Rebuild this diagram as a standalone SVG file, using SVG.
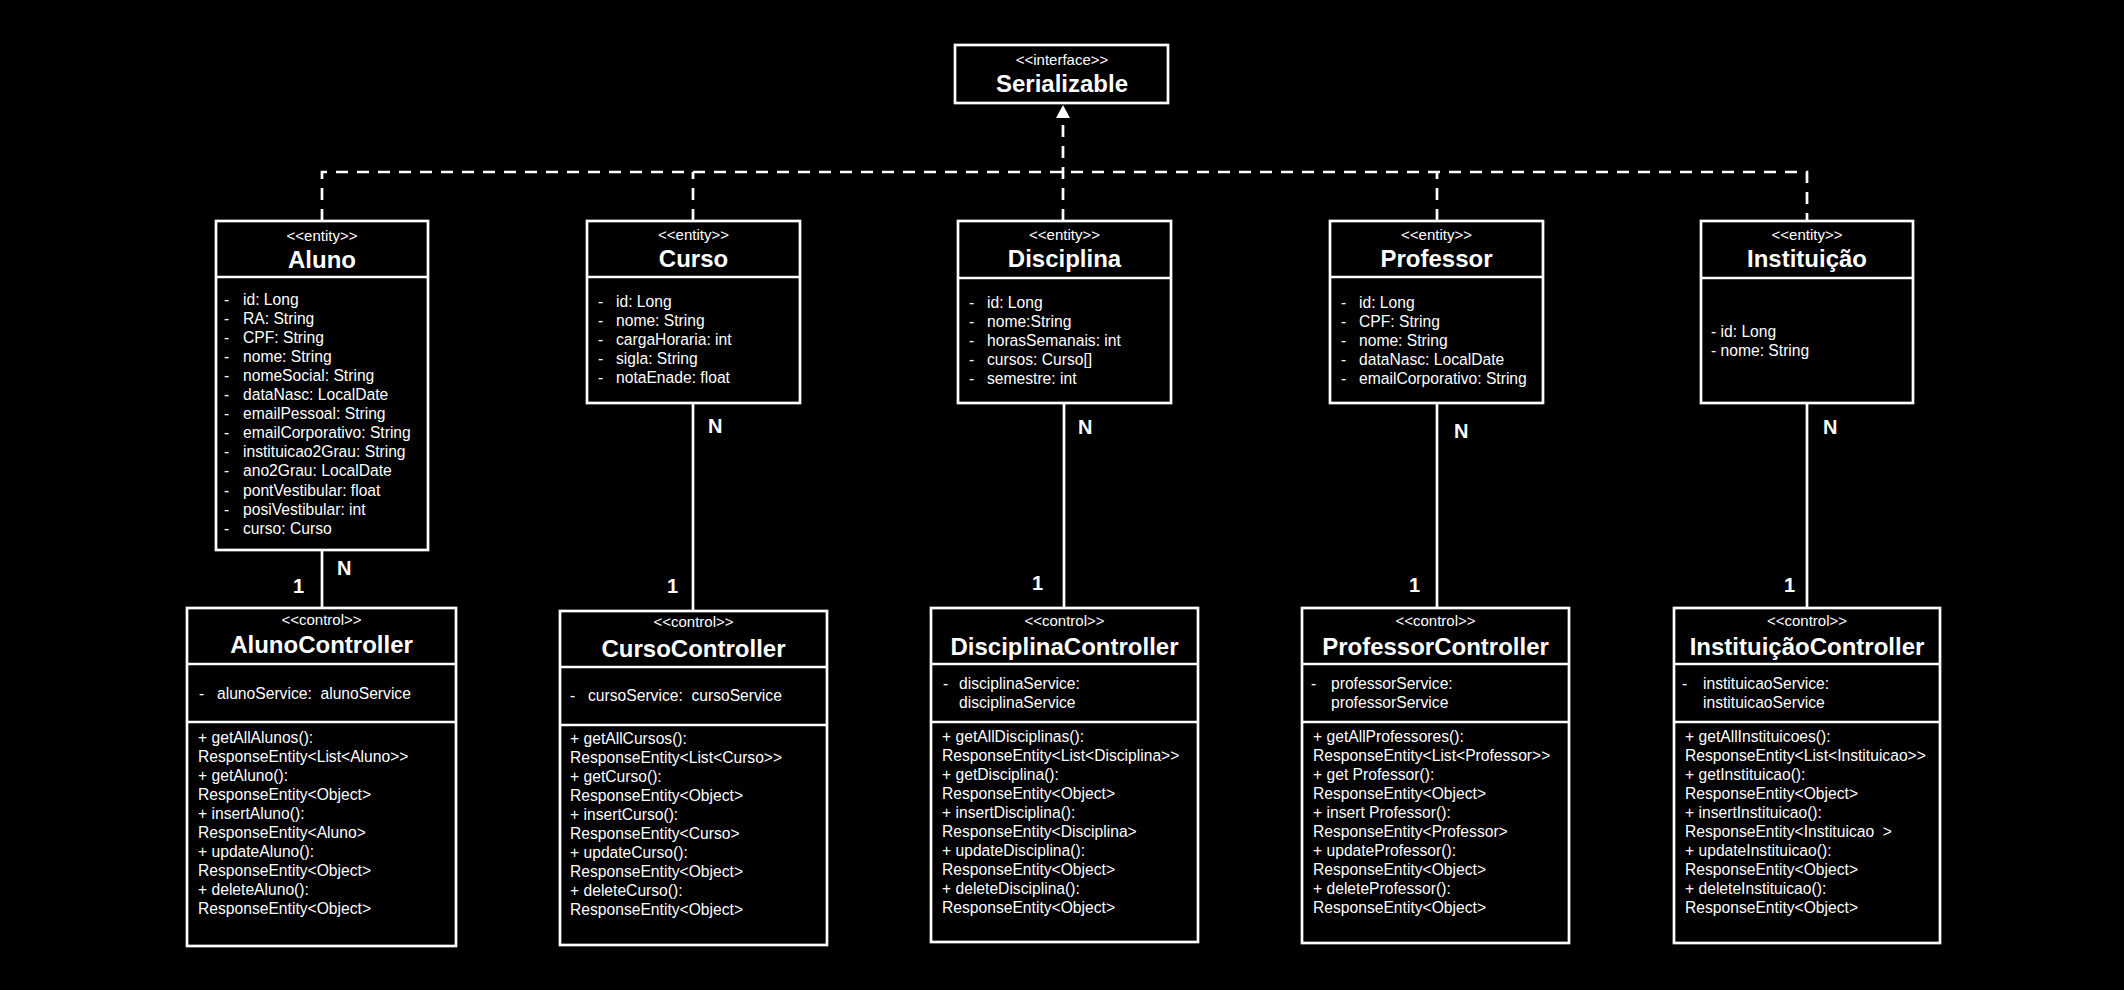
<svg xmlns="http://www.w3.org/2000/svg" width="2124" height="990" viewBox="0 0 2124 990">
<style>
.bg{fill:#000}
.box{fill:#000;stroke:#fff;stroke-width:2.7}
.sep{stroke:#fff;stroke-width:2.7}
.st{font-family:"Liberation Sans",Arial,sans-serif;font-size:15px;fill:#fff;text-anchor:middle}
.ti{font-family:"Liberation Sans",Arial,sans-serif;font-size:24px;font-weight:bold;fill:#fff;text-anchor:middle}
.tx{font-family:"Liberation Sans",Arial,sans-serif;font-size:15.65px;fill:#fff}
.card{font-family:"Liberation Sans",Arial,sans-serif;font-size:20px;font-weight:bold;fill:#fff}
.dash{fill:none;stroke:#fff;stroke-width:2.7;stroke-dasharray:12 9}
.line{fill:none;stroke:#fff;stroke-width:2.7}
</style>
<rect class="bg" x="0" y="0" width="2124" height="990"/>

<g id="connectors">
  <path class="dash" d="M322,221 V172 H1807 V221"/>
  <path class="dash" d="M693,221 V172"/>
  <path class="dash" d="M1437,221 V172"/>
  <path class="dash" d="M1063,221 V118"/>
  <polygon points="1063,105 1056,118 1070,118" fill="#fff"/>
  <path class="line" d="M322,550 V608"/>
  <path class="line" d="M693,403 V611"/>
  <path class="line" d="M1064,403 V608"/>
  <path class="line" d="M1437,403 V608"/>
  <path class="line" d="M1807,403 V608"/>
  <text class="card" x="337" y="575">N</text>
  <text class="card" x="293" y="593">1</text>
  <text class="card" x="708" y="433">N</text>
  <text class="card" x="667" y="593">1</text>
  <text class="card" x="1078" y="434">N</text>
  <text class="card" x="1032" y="590">1</text>
  <text class="card" x="1454" y="438">N</text>
  <text class="card" x="1409" y="592">1</text>
  <text class="card" x="1823" y="434">N</text>
  <text class="card" x="1784" y="592">1</text>
</g>

<g id="serializable">
  <rect class="box" x="955" y="45" width="213" height="58"/>
  <text class="st" x="1062" y="65">&lt;&lt;interface&gt;&gt;</text>
  <text class="ti" x="1062" y="92">Serializable</text>
</g>

<g id="aluno">
  <rect class="box" x="216" y="221" width="212" height="329"/>
  <line class="sep" x1="216" y1="277" x2="428" y2="277"/>
  <text class="st" x="322" y="241">&lt;&lt;entity&gt;&gt;</text>
  <text class="ti" x="322" y="268">Aluno</text>
  <g class="tx">
    <text y="305"><tspan x="224">-</tspan><tspan x="243">id: Long</tspan></text>
    <text y="324"><tspan x="224">-</tspan><tspan x="243">RA: String</tspan></text>
    <text y="343"><tspan x="224">-</tspan><tspan x="243">CPF: String</tspan></text>
    <text y="362"><tspan x="224">-</tspan><tspan x="243">nome: String</tspan></text>
    <text y="381"><tspan x="224">-</tspan><tspan x="243">nomeSocial: String</tspan></text>
    <text y="400"><tspan x="224">-</tspan><tspan x="243">dataNasc: LocalDate</tspan></text>
    <text y="419"><tspan x="224">-</tspan><tspan x="243">emailPessoal: String</tspan></text>
    <text y="438"><tspan x="224">-</tspan><tspan x="243">emailCorporativo: String</tspan></text>
    <text y="457"><tspan x="224">-</tspan><tspan x="243">instituicao2Grau: String</tspan></text>
    <text y="476"><tspan x="224">-</tspan><tspan x="243">ano2Grau: LocalDate</tspan></text>
    <text y="496"><tspan x="224">-</tspan><tspan x="243">pontVestibular: float</tspan></text>
    <text y="515"><tspan x="224">-</tspan><tspan x="243">posiVestibular: int</tspan></text>
    <text y="534"><tspan x="224">-</tspan><tspan x="243">curso: Curso</tspan></text>
  </g>
</g>

<g id="curso">
  <rect class="box" x="587" y="221" width="213" height="182"/>
  <line class="sep" x1="587" y1="277" x2="800" y2="277"/>
  <text class="st" x="693.5" y="240">&lt;&lt;entity&gt;&gt;</text>
  <text class="ti" x="693.5" y="267">Curso</text>
  <g class="tx">
    <text y="307"><tspan x="598">-</tspan><tspan x="616">id: Long</tspan></text>
    <text y="326"><tspan x="598">-</tspan><tspan x="616">nome: String</tspan></text>
    <text y="345"><tspan x="598">-</tspan><tspan x="616">cargaHoraria: int</tspan></text>
    <text y="364"><tspan x="598">-</tspan><tspan x="616">sigla: String</tspan></text>
    <text y="383"><tspan x="598">-</tspan><tspan x="616">notaEnade: float</tspan></text>
  </g>
</g>

<g id="disciplina">
  <rect class="box" x="958" y="221" width="213" height="182"/>
  <line class="sep" x1="958" y1="278" x2="1171" y2="278"/>
  <text class="st" x="1064.5" y="240">&lt;&lt;entity&gt;&gt;</text>
  <text class="ti" x="1064.5" y="267">Disciplina</text>
  <g class="tx">
    <text y="308"><tspan x="969">-</tspan><tspan x="987">id: Long</tspan></text>
    <text y="327"><tspan x="969">-</tspan><tspan x="987">nome:String</tspan></text>
    <text y="346"><tspan x="969">-</tspan><tspan x="987">horasSemanais: int</tspan></text>
    <text y="365"><tspan x="969">-</tspan><tspan x="987">cursos: Curso[]</tspan></text>
    <text y="384"><tspan x="969">-</tspan><tspan x="987">semestre: int</tspan></text>
  </g>
</g>

<g id="professor">
  <rect class="box" x="1330" y="221" width="213" height="182"/>
  <line class="sep" x1="1330" y1="277" x2="1543" y2="277"/>
  <text class="st" x="1436.5" y="240">&lt;&lt;entity&gt;&gt;</text>
  <text class="ti" x="1436.5" y="267">Professor</text>
  <g class="tx">
    <text y="308"><tspan x="1341">-</tspan><tspan x="1359">id: Long</tspan></text>
    <text y="327"><tspan x="1341">-</tspan><tspan x="1359">CPF: String</tspan></text>
    <text y="346"><tspan x="1341">-</tspan><tspan x="1359">nome: String</tspan></text>
    <text y="365"><tspan x="1341">-</tspan><tspan x="1359">dataNasc: LocalDate</tspan></text>
    <text y="384"><tspan x="1341">-</tspan><tspan x="1359">emailCorporativo: String</tspan></text>
  </g>
</g>

<g id="instituicao">
  <rect class="box" x="1701" y="221" width="212" height="182"/>
  <line class="sep" x1="1701" y1="278" x2="1913" y2="278"/>
  <text class="st" x="1807" y="240">&lt;&lt;entity&gt;&gt;</text>
  <text class="ti" x="1807" y="267">Instituição</text>
  <g class="tx">
    <text x="1711" y="337">- id: Long</text>
    <text x="1711" y="356">- nome: String</text>
  </g>
</g>

<g id="alunoController">
  <rect class="box" x="187" y="608" width="269" height="338"/>
  <line class="sep" x1="187" y1="664" x2="456" y2="664"/>
  <line class="sep" x1="187" y1="722" x2="456" y2="722"/>
  <text class="st" x="321.5" y="625">&lt;&lt;control&gt;&gt;</text>
  <text class="ti" x="321.5" y="653">AlunoController</text>
  <g class="tx">
    <text y="699" xml:space="preserve"><tspan x="199">-</tspan><tspan x="217">alunoService:  alunoService</tspan></text>
    <text x="198" y="743">+ getAllAlunos():</text>
    <text x="198" y="762">ResponseEntity&lt;List&lt;Aluno&gt;&gt;</text>
    <text x="198" y="781">+ getAluno():</text>
    <text x="198" y="800">ResponseEntity&lt;Object&gt;</text>
    <text x="198" y="819">+ insertAluno():</text>
    <text x="198" y="838">ResponseEntity&lt;Aluno&gt;</text>
    <text x="198" y="857">+ updateAluno():</text>
    <text x="198" y="876">ResponseEntity&lt;Object&gt;</text>
    <text x="198" y="895">+ deleteAluno():</text>
    <text x="198" y="914">ResponseEntity&lt;Object&gt;</text>
  </g>
</g>

<g id="cursoController">
  <rect class="box" x="560" y="611" width="267" height="334"/>
  <line class="sep" x1="560" y1="667" x2="827" y2="667"/>
  <line class="sep" x1="560" y1="725" x2="827" y2="725"/>
  <text class="st" x="693.5" y="627">&lt;&lt;control&gt;&gt;</text>
  <text class="ti" x="693.5" y="657">CursoController</text>
  <g class="tx">
    <text y="701" xml:space="preserve"><tspan x="570">-</tspan><tspan x="588">cursoService:  cursoService</tspan></text>
    <text x="570" y="744">+ getAllCursos():</text>
    <text x="570" y="763">ResponseEntity&lt;List&lt;Curso&gt;&gt;</text>
    <text x="570" y="782">+ getCurso():</text>
    <text x="570" y="801">ResponseEntity&lt;Object&gt;</text>
    <text x="570" y="820">+ insertCurso():</text>
    <text x="570" y="839">ResponseEntity&lt;Curso&gt;</text>
    <text x="570" y="858">+ updateCurso():</text>
    <text x="570" y="877">ResponseEntity&lt;Object&gt;</text>
    <text x="570" y="896">+ deleteCurso():</text>
    <text x="570" y="915">ResponseEntity&lt;Object&gt;</text>
  </g>
</g>

<g id="disciplinaController">
  <rect class="box" x="931" y="608" width="267" height="334"/>
  <line class="sep" x1="931" y1="664" x2="1198" y2="664"/>
  <line class="sep" x1="931" y1="722" x2="1198" y2="722"/>
  <text class="st" x="1064.5" y="626">&lt;&lt;control&gt;&gt;</text>
  <text class="ti" x="1064.5" y="655">DisciplinaController</text>
  <g class="tx">
    <text y="689"><tspan x="943">-</tspan><tspan x="959">disciplinaService:</tspan></text>
    <text x="959" y="708">disciplinaService</text>
    <text x="942" y="742">+ getAllDisciplinas():</text>
    <text x="942" y="761">ResponseEntity&lt;List&lt;Disciplina&gt;&gt;</text>
    <text x="942" y="780">+ getDisciplina():</text>
    <text x="942" y="799">ResponseEntity&lt;Object&gt;</text>
    <text x="942" y="818">+ insertDisciplina():</text>
    <text x="942" y="837">ResponseEntity&lt;Disciplina&gt;</text>
    <text x="942" y="856">+ updateDisciplina():</text>
    <text x="942" y="875">ResponseEntity&lt;Object&gt;</text>
    <text x="942" y="894">+ deleteDisciplina():</text>
    <text x="942" y="913">ResponseEntity&lt;Object&gt;</text>
  </g>
</g>

<g id="professorController">
  <rect class="box" x="1302" y="608" width="267" height="335"/>
  <line class="sep" x1="1302" y1="664" x2="1569" y2="664"/>
  <line class="sep" x1="1302" y1="722" x2="1569" y2="722"/>
  <text class="st" x="1435.5" y="626">&lt;&lt;control&gt;&gt;</text>
  <text class="ti" x="1435.5" y="655">ProfessorController</text>
  <g class="tx">
    <text y="689"><tspan x="1311">-</tspan><tspan x="1331">professorService:</tspan></text>
    <text x="1331" y="708">professorService</text>
    <text x="1313" y="742">+ getAllProfessores():</text>
    <text x="1313" y="761">ResponseEntity&lt;List&lt;Professor&gt;&gt;</text>
    <text x="1313" y="780">+ get Professor():</text>
    <text x="1313" y="799">ResponseEntity&lt;Object&gt;</text>
    <text x="1313" y="818">+ insert Professor():</text>
    <text x="1313" y="837">ResponseEntity&lt;Professor&gt;</text>
    <text x="1313" y="856">+ updateProfessor():</text>
    <text x="1313" y="875">ResponseEntity&lt;Object&gt;</text>
    <text x="1313" y="894">+ deleteProfessor():</text>
    <text x="1313" y="913">ResponseEntity&lt;Object&gt;</text>
  </g>
</g>

<g id="instituicaoController">
  <rect class="box" x="1674" y="608" width="266" height="335"/>
  <line class="sep" x1="1674" y1="664" x2="1940" y2="664"/>
  <line class="sep" x1="1674" y1="722" x2="1940" y2="722"/>
  <text class="st" x="1807" y="626">&lt;&lt;control&gt;&gt;</text>
  <text class="ti" x="1807" y="655">InstituiçãoController</text>
  <g class="tx">
    <text y="689"><tspan x="1682">-</tspan><tspan x="1703">instituicaoService:</tspan></text>
    <text x="1703" y="708">instituicaoService</text>
    <text x="1685" y="742">+ getAllInstituicoes():</text>
    <text x="1685" y="761">ResponseEntity&lt;List&lt;Instituicao&gt;&gt;</text>
    <text x="1685" y="780">+ getInstituicao():</text>
    <text x="1685" y="799">ResponseEntity&lt;Object&gt;</text>
    <text x="1685" y="818">+ insertInstituicao():</text>
    <text x="1685" y="837" xml:space="preserve">ResponseEntity&lt;Instituicao  &gt;</text>
    <text x="1685" y="856">+ updateInstituicao():</text>
    <text x="1685" y="875">ResponseEntity&lt;Object&gt;</text>
    <text x="1685" y="894">+ deleteInstituicao():</text>
    <text x="1685" y="913">ResponseEntity&lt;Object&gt;</text>
  </g>
</g>
</svg>
